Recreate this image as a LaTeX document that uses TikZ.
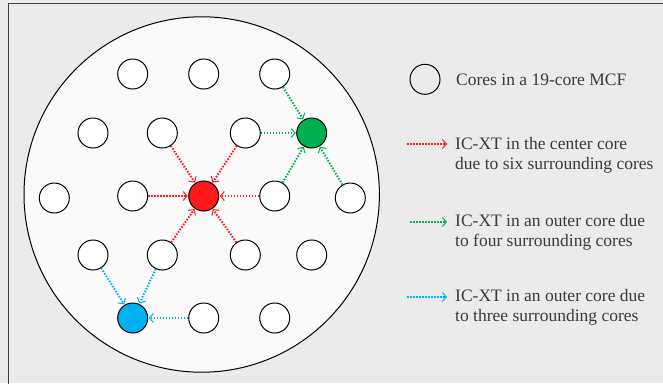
\documentclass[tikz,border=0pt]{standalone}
\usepackage{fontspec}
\setmainfont{Liberation Serif}
\usetikzlibrary{arrows.meta}
\definecolor{bggray}{HTML}{EBEBEB}
\definecolor{fibre}{HTML}{FAFAFA}
\definecolor{xtred}{HTML}{FF1A1A}
\definecolor{xtgreen}{HTML}{00B050}
\definecolor{xtblue}{HTML}{00B0F0}
\definecolor{txt}{HTML}{3A3A3A}
\tikzset{
  core/.style={circle, draw=black, line width=1pt, minimum size=30pt, inner sep=0pt, fill=white},
  xt/.style={line width=2pt, dash pattern=on 1.5pt off 1.5pt,
    -{Straight Barb[length=4pt,width=9pt,line width=1pt]}, shorten >=0.5pt},
  legtext/.style={anchor=west, align=left, font=\fontsize{17.5}{20}\selectfont, text=txt, inner sep=0pt},
}
\begin{document}
\begin{tikzpicture}[x=1pt,y=-1pt]
\useasboundingbox (0,0) rectangle (663,383);
\fill[bggray] (0,0) rectangle (663,383);
\draw[line width=1.5pt, draw=black!75] (8.5,400) -- (8.5,3.5) -- (680,3.5);
% fibre cladding
\draw[fill=fibre, line width=1pt] (201.7,194.5) circle (177.7);
% cores, row by row
\node[core] (c11) at (132.7,74) {};
\node[core] (c12) at (203.7,74) {};
\node[core] (c13) at (274.7,74) {};
\node[core] (c21) at (93,133) {};
\node[core] (c22) at (162.3,133) {};
\node[core] (c23) at (245.3,133) {};
\node[core, fill=xtgreen] (g) at (311.7,133) {};
\node[core] (c31) at (54.3,198) {};
\node[core] (c32) at (132.7,196) {};
\node[core, fill=xtred] (r) at (203.7,196) {};
\node[core] (c34) at (274.7,196) {};
\node[core] (c35) at (350.3,198) {};
\node[core] (c41) at (93,255) {};
\node[core] (c42) at (162.3,255) {};
\node[core] (c43) at (245.3,255) {};
\node[core] (c44) at (311.7,255) {};
\node[core, fill=xtblue] (b) at (132.7,318) {};
\node[core] (c52) at (203.7,318) {};
\node[core] (c53) at (274.7,318) {};
% crosstalk into the center core
\foreach \s in {c22,c23,c32,c34,c42,c43}
  \draw[xt, xtred] (\s) -- (r);
% crosstalk into the outer green core
\foreach \s in {c13,c23,c34,c35}
  \draw[xt, xtgreen] (\s) -- (g);
% crosstalk into the outer blue core
\foreach \s in {c41,c42,c52}
  \draw[xt, xtblue] (\s) -- (b);
% legend
\node[core, fill=none] (lc) at (425,79.3) {};
\node[legtext] (l1) at (456,79.3) {Cores in a 19-core MCF};
\coordinate (ra) at (407,144);
\coordinate (rb) at (447,144);
\draw[xt, xtred, shorten >=0pt] (ra) -- (rb);
\node[legtext] (l2) at (455,155.5) {IC-XT in the center core\\due to six surrounding cores};
\coordinate (ga) at (410,222);
\coordinate (gb) at (447,222);
\draw[xt, xtgreen, shorten >=0pt] (ga) -- (gb);
\node[legtext] (l3) at (455,232.5) {IC-XT in an outer core due\\to four surrounding cores};
\coordinate (ba) at (407,297);
\coordinate (bb) at (447,297);
\draw[xt, xtblue, shorten >=0pt] (ba) -- (bb);
\node[legtext] (l4) at (455,307.5) {IC-XT in an outer core due\\to three surrounding cores};
\end{tikzpicture}
\end{document}
